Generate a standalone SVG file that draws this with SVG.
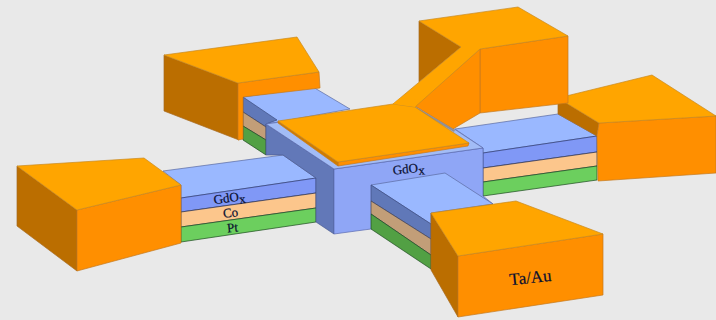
<svg xmlns="http://www.w3.org/2000/svg" width="716" height="320" viewBox="0 0 716 320">
<style>
polygon{stroke-width:.7;stroke-linejoin:round}
.gt{fill:#ffa500;stroke:#c98a20}
.gf{fill:#ff8f00;stroke:#c47a20}
.gd{fill:#bb6e00;stroke:#a86a20}
.bt{fill:#9ab8ff;stroke:#5a6aa0}
.bf{fill:#8098f6;stroke:#2c3a70}
.bd{fill:#6078b8;stroke:#3c4c80}
.cf{fill:#fcc68c;stroke:#2a3050}
.cd{fill:#c29e78;stroke:#404050}
.pf{fill:#6ccf5e;stroke:#1c4a20}
.pd{fill:#52a044;stroke:#1c4a20}
.kt{fill:#8fa6f6;stroke:#5a6ab0}
.kl{fill:#a2bcf6;stroke:#5a6ab0}
.kd{fill:#6278b8;stroke:#4a5a90}
text{font-family:"Liberation Serif","Times New Roman",serif;fill:#0a0f30;text-anchor:middle;stroke:#0a0f30;stroke-width:.2}
.s{font-size:13px}
</style>
<rect width="716" height="320" fill="#e9e9e9"/>
<g id="connectors">
<g id="arm-back">
<polygon class="bt" points="243,97 313,87 350,109 278,122 266,124"/>
<polygon class="bd" points="243,97 277,120 266,124 266,127 243,112"/>
<polygon class="cd" points="243,112 266,127 266,140 243,126"/>
<polygon class="pd" points="243,126 266,140 266,155 243,140"/>
</g>
<g id="arm-right">
<polygon class="bt" points="455,129 558,114 597,136 483,153 483,148"/>
<polygon class="bf" points="483,153 597,136 597,152 483,168"/>
<polygon class="cf" points="483,168 597,152 597,166 483,182"/>
<polygon class="pf" points="483,182 597,166 597,180 483,196"/>
</g>
<g id="arm-left">
<polygon class="bt" points="163,171 283,155 316,178 181,198 181,185"/>
<polygon class="bf" points="181,198 316,178 316,193 181,212"/>
<polygon class="cf" points="181,212 316,193 316,208 181,227"/>
<polygon class="pf" points="181,227 316,208 316,222 181,242"/>
</g>
</g>
<g id="pad-back-left">
<polygon class="gd" points="164,55 238,83 239,140 164,111"/>
<polygon class="gf" points="238,83 319,72 320,88 243,97 243,139 238,140"/>
<polygon class="gt" points="164,55 297,37 319,72 238,83"/>
</g>
<g id="pad-right">
<polygon class="gd" points="558,98 599,123 597,136 558,114"/>
<polygon class="gf" points="599,123 716,116 716,173 598,181 597,136"/>
<polygon class="gt" points="558,98 652,75 716,116 599,123"/>
</g>
<g id="block">
<polygon class="kd" points="266,124 334,169 334,234 316,222 316,178 283,155 266,155"/>
<polygon class="kt" points="334,169 483,148 483,196 493,204 371,229 356,231 334,234"/>
<polygon class="kl" points="266,124 415,103 483,148 334,169"/>
</g>
<g id="pad-top">
<polygon class="gd" points="419,21 461,47 419,82"/>
<polygon class="gf" points="480,49 568,36 568,103 480,113"/>
<polygon class="gf" points="480,49 415,106 453,129 480,113"/>
<polygon points="416,107 455,130 454,132 414,108" fill="#8f9098" stroke="none"/>
<polygon class="gt" points="419,21 518,7 568,36 480,49 415,107 393,104 461,47"/>
</g>
<g id="plate">
<polygon class="gf" points="338,162 469,143 468,146 338,166"/>
<polygon points="278,121 338,162 338,166 278,123" fill="#d07c00" stroke="#c47a20"/>
<polygon class="gt" points="278,121 393,104 415,107 469,143 338,162"/>
<polygon points="393,104 415,107 420,100 400,98" fill="#ffa500" stroke="none"/>
</g>
<g id="arm-front">
<polygon class="bt" points="371,185 445,173 493,204 431,213 431,224"/>
<polygon class="bd" points="371,185 431,224 431,239 371,201"/>
<polygon class="cd" points="371,201 431,239 431,255 371,214"/>
<polygon class="pd" points="371,214 431,255 431,269 371,229"/>
</g>
<g id="left-pad">
<polygon class="gd" points="17,166 77,210 77,271 17,226"/>
<polygon class="gf" points="77,210 181,185 181,243 77,271"/>
<polygon class="gt" points="17,166 144,158 181,185 77,210"/>
</g>
<g id="pad-front">
<polygon class="gd" points="431,213 458,256 458,317 431,270"/>
<polygon class="gf" points="458,256 603,234 603,295 458,317"/>
<polygon class="gt" points="431,213 516,201 603,234 458,256"/>
</g>
<g id="labels">
<text class="s" transform="translate(230,202) rotate(-8)">GdO<tspan dy="3">x</tspan></text>
<text class="s" transform="translate(231,217) rotate(-6)">Co</text>
<text class="s" transform="translate(233,232) rotate(-6)">Pt</text>
<text class="s" transform="translate(409,173) rotate(-6)">GdO<tspan dy="3">x</tspan></text>
<text font-size="17" transform="translate(531,283) rotate(-6)">Ta/Au</text>
</g>
</svg>
